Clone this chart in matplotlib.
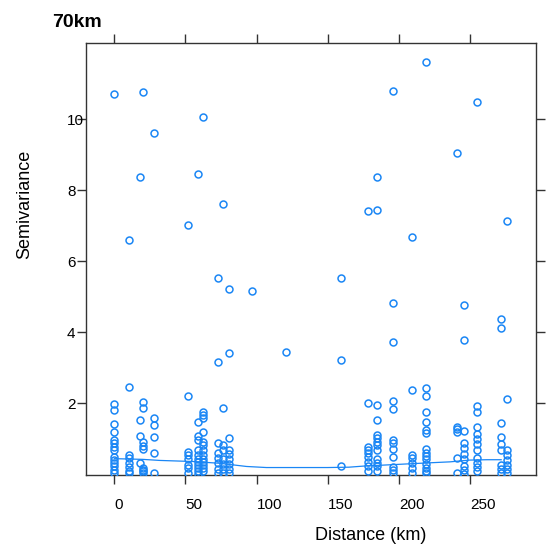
import matplotlib
matplotlib.use("Agg")
import matplotlib.pyplot as plt

plt.rcParams['font.family'] = ['Liberation Sans', 'DejaVu Sans']

# semivariance cloud: distance (km) and semivariance, read column by column
dist = (
    [0] * 15 + [10.4] * 8 + [17.8] * 4 + [20.3] * 10 + [27.6] * 6
    + [51.7] * 8 + [59.0] * 12 + [62.2] * 14 + [72.7] * 8 + [76.2] * 8 + [80.4] * 9
    + [96.8, 120.5, 159.6, 159.6, 159.6]
    + [178.6] * 9 + [184.5] * 13 + [196.2] * 12 + [209.1] * 7 + [219.5] * 15
    + [241.2] * 6 + [245.6] * 10 + [255.0] * 12 + [271.6] * 9 + [276.0] * 8
)
semivar = (
    # 0 km
    [10.70, 1.98, 1.81, 1.41, 1.19, 0.97, 0.87, 0.78, 0.69, 0.50, 0.40, 0.31, 0.22, 0.12, 0.03]
    # ~10 km
    + [6.59, 2.45, 0.55, 0.45, 0.31, 0.20, 0.10, 0.03]
    # ~18 km
    + [8.37, 1.53, 1.09, 0.31]
    # ~20 km
    + [10.77, 2.03, 1.86, 0.90, 0.81, 0.71, 0.17, 0.08, 0.03, 0.12]
    # ~28 km
    + [9.62, 1.58, 1.39, 1.04, 0.59, 0.05]
    # ~52 km
    + [7.02, 2.20, 0.64, 0.55, 0.42, 0.26, 0.17, 0.05]
    # ~59 km
    + [8.44, 1.48, 1.09, 0.97, 0.69, 0.55, 0.42, 0.34, 0.26, 0.17, 0.08, 0.01]
    # ~62 km
    + [10.07, 1.75, 1.67, 1.58, 1.18, 0.92, 0.83, 0.69, 0.55, 0.42, 0.34, 0.26, 0.17, 0.08]
    # ~73 km
    + [5.52, 3.16, 0.87, 0.59, 0.45, 0.31, 0.14, 0.03]
    # ~76 km
    + [7.61, 1.88, 0.83, 0.69, 0.42, 0.29, 0.15, 0.03]
    # ~80 km
    + [5.21, 3.41, 1.02, 0.69, 0.57, 0.42, 0.29, 0.15, 0.03]
    # isolated
    + [5.15, 3.43, 5.52, 3.22, 0.24]
    # ~179 km
    + [7.40, 2.00, 0.78, 0.69, 0.59, 0.48, 0.36, 0.22, 0.08]
    # ~185 km
    + [7.44, 8.37, 1.95, 1.53, 1.11, 1.02, 0.92, 0.83, 0.69, 0.42, 0.33, 0.22, 0.08]
    # ~196 km
    + [10.80, 4.83, 3.72, 2.06, 1.84, 0.97, 0.87, 0.71, 0.50, 0.20, 0.12, 0.03]
    # ~209 km
    + [6.67, 2.37, 0.55, 0.45, 0.31, 0.17, 0.03]
    # ~220 km
    + [11.60, 2.42, 2.19, 1.75, 1.48, 1.25, 1.16, 0.71, 0.61, 0.52, 0.42, 0.29, 0.17, 0.08, 0.03]
    # ~241 km
    + [9.03, 1.34, 1.27, 1.20, 0.45, 0.05]
    # ~246 km
    + [4.76, 3.78, 1.23, 0.89, 0.73, 0.57, 0.43, 0.24, 0.12, 0.00]
    # ~255 km
    + [10.49, 1.93, 1.74, 1.33, 1.13, 0.99, 0.84, 0.69, 0.45, 0.31, 0.20, 0.08]
    # ~272 km
    + [4.37, 4.13, 1.44, 1.06, 0.84, 0.68, 0.26, 0.14, 0.03]
    # ~276 km
    + [7.12, 2.12, 0.68, 0.55, 0.41, 0.26, 0.14, 0.03]
)

# smoother through the cloud
smooth_x = [0, 10, 20, 32, 55, 74, 93, 107, 130, 150, 165, 175, 190, 205, 220, 236, 250, 262, 272]
smooth_y = [0.44, 0.43, 0.42, 0.39, 0.36, 0.31, 0.22, 0.19, 0.19, 0.19, 0.20, 0.23, 0.26, 0.29, 0.32, 0.35, 0.40, 0.41, 0.41]

xticks = [0, 50, 100, 150, 200, 250]
yticks = [2, 4, 6, 8, 10]

blue = '#1a86f5'
axcol = '#333333'

fig = plt.figure(figsize=(5.5, 5.53), dpi=100)
ax = fig.add_axes([86/550, 1 - 475/553, 450/550, 432/553])

ax.plot(smooth_x, smooth_y, color=blue, lw=0.9, zorder=2)
ax.plot(dist, semivar, linestyle='none', marker='o', markersize=5.0,
        markerfacecolor='none', markeredgecolor=blue, markeredgewidth=1.1, zorder=3)

ax.set_xlim(-19.9, 296.5)
ax.set_ylim(-0.02, 12.14)
ax.set_xticks(xticks)
ax.set_yticks(yticks)
ax.set_xticklabels([str(t) for t in xticks])
ax.set_yticklabels([str(t) for t in yticks])

for s in ax.spines.values():
    s.set_color(axcol)
    s.set_linewidth(1.0)

ax.tick_params(axis='both', which='both', direction='out', length=6.5, width=1.0,
               color=axcol, labelsize=11, labelcolor='black',
               top=True, right=True, labeltop=False, labelright=False)
ax.tick_params(axis='x', pad=10)
ax.tick_params(axis='y', pad=7.2)
for lab in ax.get_xticklabels():
    lab.set_ha('left')
for lab in ax.get_yticklabels():
    lab.set_ha('left')

ax.set_xlabel('Distance (km)', fontsize=13)
ax.xaxis.set_label_coords((371 - 86) / 450, (475 - 527) / 432)
ax.set_ylabel('Semivariance', fontsize=13)
ax.yaxis.set_label_coords((25 - 86) / 450, (475 - 204) / 432)
ax.yaxis.label.set_va('center')

fig.text(52/550, 1 - 27/553, '70km', fontsize=14, fontweight='bold', va='baseline', ha='left')

fig.savefig('out.png', dpi=100)
